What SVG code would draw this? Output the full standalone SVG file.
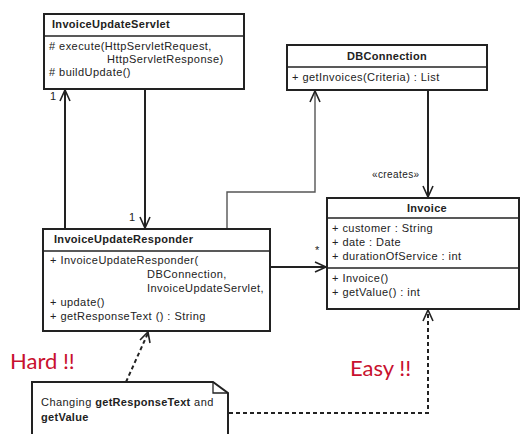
<svg xmlns="http://www.w3.org/2000/svg" width="521" height="434" viewBox="0 0 521 434">
<style>
.box{fill:#fff;stroke:#222;stroke-width:2}
.div{stroke:#222;stroke-width:1.3}
.t{font-family:"Liberation Sans",Arial,sans-serif;font-size:11px;letter-spacing:0.45px;fill:#222}
.b{font-weight:bold;letter-spacing:0.3px}
.c{stroke:#222;stroke-width:2;fill:none}
.g{stroke:#555;stroke-width:1.4;fill:none}
.d{stroke:#222;stroke-width:2;fill:none;stroke-dasharray:4 3}
.ah{stroke:#222;stroke-width:1.6;fill:none}
.red{font-family:Lato,"Open Sans",sans-serif;font-size:22px;fill:#c8102e}
</style>
<g id="connectors">
<path class="c" d="M65,229 V90"/>
<path class="ah" d="M60,101 L65,90 L70,101"/>
<path class="c" d="M145,89 V228"/>
<path class="ah" d="M140,217 L145,228 L150,217"/>
<path class="g" d="M227,229 V192 H315 V91"/>
<path class="ah" d="M310,102 L315,91 L320,102"/>
<path class="c" d="M428,90 V197"/>
<path class="ah" d="M423,186 L428,197 L433,186"/>
<path class="c" d="M270,267 H326"/>
<path class="ah" d="M315,262 L326,267 L315,272"/>
<path class="d" d="M126,382 L148,333"/>
<path class="ah" d="M140,340 L148,332 L150,343"/>
<path class="d" d="M229,413 H428 V311"/>
<path class="ah" d="M423,321 L428,310 L433,321"/>
<text class="t" x="50" y="100">1</text>
<text class="t" x="129" y="221">1</text>
<text class="t" x="315" y="254">*</text>
<text class="t" x="372" y="178" style="font-size:10px;letter-spacing:0.4px">«creates»</text>
</g>
<g id="InvoiceUpdateServlet">
<rect class="box" x="44" y="14" width="200" height="75"/>
<line class="div" x1="44" y1="36" x2="244" y2="36"/>
<text class="t b" x="52" y="28">InvoiceUpdateServlet</text>
<text class="t" x="49" y="50"># execute(HttpServletRequest,</text>
<text class="t" x="107" y="63">HttpServletResponse)</text>
<text class="t" x="49" y="76"># buildUpdate()</text>
</g>
<g id="DBConnection">
<rect class="box" x="287" y="45" width="200" height="45"/>
<line class="div" x1="287" y1="67" x2="487" y2="67"/>
<text class="t b" x="387" y="60" text-anchor="middle">DBConnection</text>
<text class="t" x="292" y="81">+ getInvoices(Criteria) : List</text>
</g>
<g id="InvoiceUpdateResponder">
<rect class="box" x="43" y="229" width="227" height="102"/>
<line class="div" x1="43" y1="251" x2="270" y2="251"/>
<text class="t b" x="54" y="243">InvoiceUpdateResponder</text>
<text class="t" x="50" y="264">+ InvoiceUpdateResponder(</text>
<text class="t" x="147" y="278">DBConnection,</text>
<text class="t" x="147" y="292">InvoiceUpdateServlet,</text>
<text class="t" x="50" y="306">+ update()</text>
<text class="t" x="50" y="320">+ getResponseText () : String</text>
</g>
<g id="Invoice">
<rect class="box" x="327" y="198" width="192" height="111"/>
<line class="div" x1="327" y1="218" x2="519" y2="218"/>
<line class="div" x1="327" y1="268" x2="519" y2="268"/>
<text class="t b" x="427" y="212" text-anchor="middle">Invoice</text>
<text class="t" x="332" y="232">+ customer : String</text>
<text class="t" x="332" y="246">+ date : Date</text>
<text class="t" x="332" y="260">+ durationOfService : int</text>
<text class="t" x="332" y="282">+ Invoice()</text>
<text class="t" x="332" y="296">+ getValue() : int</text>
</g>
<g id="note">
<path class="box" d="M32,436 V382 H213 L228,393 V436"/>
<path class="div" d="M213,382 V393 H228" fill="none"/>
<text class="t" x="41" y="406">Changing <tspan class="b">getResponseText</tspan> and</text>
<text class="t b" x="41" y="421">getValue</text>
</g>
<text class="red" x="10" y="369">Hard !!</text>
<text class="red" x="350" y="376">Easy !!</text>
</svg>
